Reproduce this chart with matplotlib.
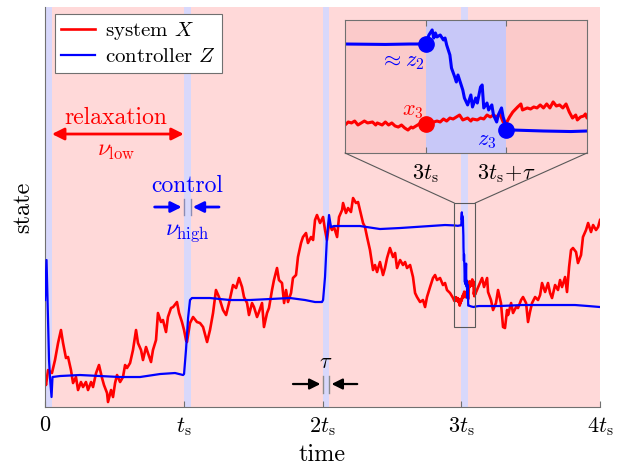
import matplotlib
matplotlib.use("Agg")
import matplotlib.pyplot as plt
from matplotlib.patches import Rectangle, ConnectionPatch

plt.rcParams['font.family'] = ['cmr10', 'DejaVu Serif']
plt.rcParams['mathtext.fontset'] = 'cm'
plt.rcParams['axes.unicode_minus'] = False
plt.rcParams['axes.formatter.use_mathtext'] = True

# time in units of t_s, state in arbitrary units
tau = 0.05
ctrl_starts = [0, 1, 2, 3]
xtick_pos = [0, 1, 2, 3, 4]
xtick_lbl = ['$0$', r'$t_\mathrm{s}$', r'$2t_\mathrm{s}$', r'$3t_\mathrm{s}$', r'$4t_\mathrm{s}$']

red_t = [0.0, 0.007, 0.022, 0.050, 0.072, 0.094, 0.115, 0.130, 0.151, 0.166,
         0.187, 0.202, 0.223, 0.238, 0.259, 0.274, 0.295, 0.310, 0.332, 0.346,
         0.368, 0.389, 0.411, 0.425, 0.447, 0.454, 0.476, 0.490, 0.505, 0.519,
         0.541, 0.562, 0.577, 0.591, 0.613, 0.634, 0.656, 0.670, 0.692, 0.706,
         0.728, 0.742, 0.764, 0.778, 0.800, 0.814, 0.836, 0.850, 0.872, 0.886,
         0.908, 0.923, 0.951, 0.966, 0.987, 1.002, 1.016, 1.023, 1.045, 1.067,
         1.095, 1.117, 1.139, 1.168, 1.189, 1.211, 1.232, 1.254, 1.283, 1.305,
         1.326, 1.355, 1.377, 1.398, 1.420, 1.434, 1.456, 1.470, 1.492, 1.506,
         1.528, 1.542, 1.564, 1.578, 1.600, 1.614, 1.636, 1.650, 1.672, 1.686,
         1.708, 1.723, 1.737, 1.751, 1.773, 1.787, 1.809, 1.823, 1.845, 1.859,
         1.881, 1.895, 1.917, 1.932, 1.946, 1.960, 1.982, 2.004, 2.018, 2.032,
         2.047, 2.068, 2.083, 2.105, 2.119, 2.141, 2.148, 2.169, 2.184, 2.205,
         2.220, 2.241, 2.256, 2.270, 2.292, 2.306, 2.321, 2.342, 2.364, 2.378,
         2.393, 2.414, 2.436, 2.450, 2.465, 2.486, 2.508, 2.523, 2.537, 2.559,
         2.580, 2.595, 2.609, 2.631, 2.652, 2.667, 2.681, 2.703, 2.724, 2.739,
         2.753, 2.775, 2.796, 2.811, 2.825, 2.847, 2.868, 2.883, 2.897, 2.919,
         2.941,
         2.950, 2.952, 2.954, 2.956, 2.958, 2.961, 2.962, 2.964, 2.967, 2.969,
         2.970, 2.973, 2.975, 2.977, 2.979, 2.981, 2.983, 2.985, 2.987, 2.989,
         2.991, 2.992, 2.995, 2.997, 3.000, 3.003, 3.005, 3.007, 3.009, 3.011,
         3.013, 3.015, 3.017, 3.019, 3.021, 3.023, 3.026, 3.028, 3.029, 3.032,
         3.034, 3.036, 3.038, 3.040, 3.042, 3.044, 3.046, 3.048, 3.050, 3.052,
         3.054, 3.057, 3.059, 3.060, 3.063, 3.065, 3.067, 3.069, 3.071, 3.073,
         3.075, 3.077, 3.079, 3.081, 3.083, 3.085, 3.087, 3.089, 3.091, 3.093,
         3.094, 3.096, 3.098, 3.099, 3.100,
         3.128, 3.150, 3.164, 3.186, 3.193, 3.214, 3.229, 3.250, 3.265, 3.286,
         3.301, 3.315, 3.330, 3.337, 3.359, 3.373, 3.395, 3.409, 3.431, 3.445,
         3.467, 3.481, 3.495, 3.510, 3.532, 3.553, 3.568, 3.582, 3.604, 3.625,
         3.640, 3.654, 3.676, 3.697, 3.712, 3.726, 3.748, 3.762, 3.777, 3.791,
         3.805, 3.827, 3.841, 3.863, 3.877, 3.899, 3.914, 3.935, 3.950, 3.971,
         3.986, 4.000]
red_x = [0.29, 0.22, 0.37, 0.34, 0.47, 0.64, 0.77, 0.64, 0.49, 0.50,
         0.37, 0.24, 0.30, 0.17, 0.25, 0.20, 0.25, 0.17, 0.25, 0.20,
         0.34, 0.42, 0.29, 0.22, 0.14, 0.05, 0.17, 0.10, 0.24, 0.32,
         0.25, 0.30, 0.42, 0.39, 0.44, 0.57, 0.77, 0.64, 0.57, 0.47,
         0.60, 0.54, 0.45, 0.57, 0.67, 0.94, 0.85, 0.87, 0.75, 0.90,
         0.99, 1.00, 1.05, 0.94, 0.85, 0.77, 0.67, 0.65, 0.84, 0.90,
         0.85, 0.84, 0.80, 0.65, 0.77, 0.94, 1.17, 1.10, 0.97, 0.92,
         1.04, 1.22, 1.19, 1.29, 1.20, 1.10, 1.04, 0.92, 1.04, 1.00,
         0.90, 0.95, 1.04, 0.80, 0.94, 0.99, 1.17, 1.27, 1.39, 1.27,
         1.24, 1.04, 1.17, 1.05, 1.14, 1.29, 1.32, 1.50, 1.64, 1.70,
         1.74, 1.64, 1.70, 1.67, 1.87, 1.92, 1.84, 1.90, 1.77, 1.67,
         1.84, 1.77, 1.80, 1.70, 1.90, 1.97, 2.04, 1.94, 1.99, 1.95,
         2.09, 2.04, 2.05, 1.97, 1.84, 1.80, 1.70, 1.57, 1.37, 1.42,
         1.35, 1.45, 1.32, 1.39, 1.49, 1.59, 1.50, 1.54, 1.39, 1.47,
         1.42, 1.45, 1.39, 1.42, 1.30, 1.14, 1.10, 1.05, 1.07, 1.00,
         1.10, 1.20, 1.29, 1.32, 1.27, 1.29, 1.22, 1.24, 1.17, 1.14,
         1.09,
         1.061, 1.089, 1.080, 1.098, 1.061, 1.089, 1.098, 1.080, 1.089, 1.061,
         1.080, 1.061, 1.089, 1.061, 1.080, 1.052, 1.042, 1.061, 1.033, 1.014,
         1.042, 1.033, 1.061, 1.080, 1.070, 1.061, 1.089, 1.098, 1.089, 1.117,
         1.098, 1.126, 1.117, 1.136, 1.154, 1.108, 1.126, 1.098, 1.117, 1.108,
         1.126, 1.117, 1.154, 1.136, 1.154, 1.136, 1.164, 1.089, 1.080, 1.136,
         1.182, 1.229, 1.257, 1.201, 1.220, 1.210, 1.229, 1.220, 1.248, 1.220,
         1.257, 1.220, 1.276, 1.238, 1.248, 1.220, 1.257, 1.182, 1.126, 1.154,
         1.108, 1.136, 1.145, 1.164, 1.126,
         1.22, 1.29, 1.20, 1.29, 1.15, 1.07, 0.97, 1.04, 1.17, 1.04,
         0.80, 0.79, 0.97, 0.92, 1.04, 0.94, 1.00, 0.99, 1.07, 1.10,
         1.04, 0.85, 0.95, 1.04, 1.10, 1.07, 1.12, 1.24, 1.15, 1.24,
         1.14, 1.09, 1.22, 1.17, 1.27, 1.20, 1.30, 1.15, 1.40, 1.57,
         1.59, 1.55, 1.44, 1.52, 1.70, 1.77, 1.84, 1.75, 1.82, 1.77,
         1.80, 1.87]

blue_t = [0.0, 0.011, 0.029, 0.036, 0.047, 0.054, 0.108, 0.252, 0.396, 0.541,
          0.685, 0.829, 0.937, 0.995, 1.002, 1.016, 1.031, 1.045, 1.059, 1.189,
          1.333, 1.477, 1.622, 1.766, 1.874, 1.946, 1.996, 2.004, 2.018, 2.032,
          2.047, 2.061, 2.083, 2.270, 2.414, 2.559, 2.775, 2.883,
          2.950, 2.975, 2.990, 3.000, 3.002, 3.004, 3.005, 3.006, 3.007, 3.009,
          3.011, 3.012, 3.013, 3.015, 3.016, 3.018, 3.019, 3.020, 3.022, 3.023,
          3.024, 3.026, 3.028, 3.029, 3.031, 3.032, 3.034, 3.035, 3.036, 3.038,
          3.039, 3.041, 3.042, 3.044, 3.045, 3.047, 3.048, 3.049, 3.050, 3.054,
          3.073, 3.090, 3.100,
          3.128, 3.279, 3.438, 3.676, 3.820, 3.914, 4.000]
blue_x = [1.07, 1.47, 0.47, 0.29, 0.10, 0.30, 0.31, 0.32, 0.31, 0.30,
          0.30, 0.33, 0.34, 0.32, 0.33, 0.57, 0.89, 1.07, 1.09, 1.09,
          1.07, 1.07, 1.08, 1.09, 1.07, 1.05, 1.05, 1.07, 1.30, 1.70,
          1.92, 1.80, 1.81, 1.81, 1.78, 1.79, 1.81, 1.82,
          1.816, 1.812, 1.816, 1.816, 1.900, 1.947, 1.872, 1.919, 1.882, 1.900,
          1.854, 1.872, 1.807, 1.714, 1.592, 1.509, 1.462, 1.527, 1.434, 1.387,
          1.313, 1.248, 1.341, 1.229, 1.313, 1.266, 1.415, 1.434, 1.220, 1.266,
          1.201, 1.248, 1.154, 1.089, 1.154, 1.220, 1.136, 1.089, 1.014, 1.014,
          1.005, 1.000, 1.005,
          1.01, 1.01, 1.02, 1.02, 1.02, 1.01, 1.00]

# marked points in the inset
x3 = (3.0, 1.070)
z2 = (3.0, 1.816)
z3 = (3.05, 1.014)

pink = '#ffd9d9'
lav = '#d8d8fb'
grey = '#707070'

fig = plt.figure(figsize=(6.2, 4.68), dpi=100)
ax = fig.add_axes([0.0726, 0.1303, 0.8952, 0.8547])
ax.set_facecolor(pink)
for s in ctrl_starts:
    ax.axvspan(s, s + tau, color=lav, lw=0, zorder=0)

ax.plot(red_t, red_x, color='red', lw=1.9, label='system $X$', zorder=2)
ax.plot(blue_t, blue_x, color='blue', lw=1.6, label='controller $Z$', zorder=3)

ax.set_xlim(0, 4)
ax.set_ylim(0, 4)
ax.set_yticks([])
ax.set_xticks(xtick_pos)
ax.set_xticklabels(xtick_lbl, fontsize=16)
ax.tick_params(axis='x', direction='in', length=4, color=grey, pad=6)
for sp in ['top', 'right']:
    ax.spines[sp].set_visible(False)
for sp in ['left', 'bottom']:
    ax.spines[sp].set_color(grey)
    ax.spines[sp].set_linewidth(0.8)
ax.set_xlabel('time', fontsize=17.5, labelpad=4)
ax.set_ylabel('state', fontsize=17.5, labelpad=8)

leg = ax.legend(loc='upper left', bbox_to_anchor=(0.018, 0.982), borderaxespad=0,
                fontsize=15, fancybox=False, edgecolor=grey, framealpha=1,
                handlelength=1.6, handletextpad=0.5, borderpad=0.3, labelspacing=0.25)
leg.get_frame().set_linewidth(0.8)

# relaxation annotation
ax.annotate('', xy=(0.05, 2.73), xytext=(1.0, 2.73),
            arrowprops=dict(arrowstyle='<|-|>', color='red', lw=2, mutation_scale=18,
                            shrinkA=0, shrinkB=0))
ax.text(0.51, 2.89, 'relaxation', color='red', fontsize=17, ha='center', va='center')
ax.text(0.51, 2.56, r'$\nu_\mathrm{low}$', color='red', fontsize=17, ha='center', va='center')

# control annotation
ax.annotate('', xy=(0.985, 2.0), xytext=(0.79, 2.0),
            arrowprops=dict(arrowstyle='-|>', color='blue', lw=2, mutation_scale=16,
                            shrinkA=0, shrinkB=0))
ax.annotate('', xy=(1.065, 2.0), xytext=(1.254, 2.0),
            arrowprops=dict(arrowstyle='-|>', color='blue', lw=2, mutation_scale=16,
                            shrinkA=0, shrinkB=0))
ax.plot([1.0, 1.0], [1.92, 2.08], color='#8c8cb4', lw=1)
ax.plot([1.05, 1.05], [1.92, 2.08], color='#8c8cb4', lw=1)
ax.text(1.025, 2.21, 'control', color='blue', fontsize=17, ha='center', va='center')
ax.text(1.025, 1.74, r'$\nu_\mathrm{high}$', color='blue', fontsize=17, ha='center', va='center')

# tau annotation
ax.annotate('', xy=(1.985, 0.23), xytext=(1.787, 0.23),
            arrowprops=dict(arrowstyle='-|>', color='black', lw=1.6, mutation_scale=16,
                            shrinkA=0, shrinkB=0))
ax.annotate('', xy=(2.065, 0.23), xytext=(2.25, 0.23),
            arrowprops=dict(arrowstyle='-|>', color='black', lw=1.6, mutation_scale=16,
                            shrinkA=0, shrinkB=0))
ax.plot([2.0, 2.0], [0.14, 0.31], color='0.55', lw=1)
ax.plot([2.05, 2.05], [0.14, 0.31], color='0.55', lw=1)
ax.text(2.025, 0.45, r'$\tau$', fontsize=16, ha='center', va='center')

# inset
in_xlim = (3.0 - tau, 3.0 + 2 * tau)
in_ylim = (0.80, 2.04)
axin = fig.add_axes([0.5565, 0.6731, 0.3903, 0.2842])
axin.set_facecolor('#fbcaca')
axin.axvspan(3.0, 3.0 + tau, color='#c8c8f8', lw=0, zorder=0)
axin.plot(red_t, red_x, color='red', lw=2.2)
axin.plot(blue_t, blue_x, color='blue', lw=2.2)
axin.plot(*x3, 'o', color='red', ms=11)
axin.plot(*z2, 'o', color='blue', ms=11)
axin.plot(*z3, 'o', color='blue', ms=11)
axin.text(2.9995, 1.645, r'$\approx z_2$', color='blue', fontsize=16, ha='right', va='center',
          zorder=5)
axin.text(2.9985, 1.185, '$x_3$', color='red', fontsize=16, ha='right', va='center', zorder=5)
axin.text(3.038, 0.905, '$z_3$', color='blue', fontsize=16, ha='center', va='center', zorder=5)
axin.set_xlim(*in_xlim)
axin.set_ylim(*in_ylim)
axin.set_yticks([])
axin.set_xticks([3.0, 3.0 + tau])
axin.set_xticklabels([r'$3t_\mathrm{s}$', r'$3t_\mathrm{s}\!+\!\tau$'], fontsize=16)
axin.tick_params(axis='x', direction='in', length=4, color=grey, top=True, pad=7)
for sp in axin.spines.values():
    sp.set_color(grey)
    sp.set_linewidth(0.8)

# zoom box and connectors
ax.add_patch(Rectangle((in_xlim[0], in_ylim[0]), in_xlim[1] - in_xlim[0],
                       in_ylim[1] - in_ylim[0], fill=False, ec='0.35', lw=0.8, zorder=4))
for xx in in_xlim:
    con = ConnectionPatch(xyA=(xx, in_ylim[0]), coordsA=axin.transData,
                          xyB=(xx, in_ylim[1]), coordsB=ax.transData,
                          color='0.35', lw=0.8)
    fig.add_artist(con)

fig.savefig('out.png', dpi=100)
